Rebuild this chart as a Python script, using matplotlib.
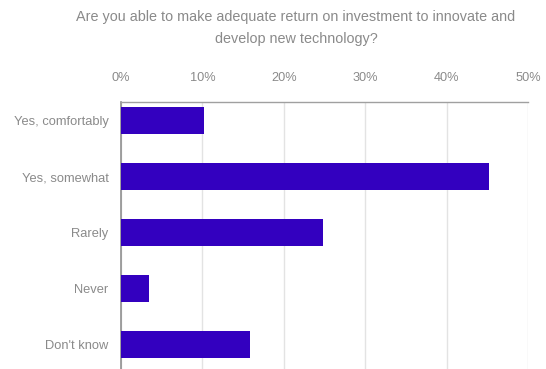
import matplotlib
matplotlib.use("Agg")
from matplotlib import pyplot as plt
from matplotlib.ticker import PercentFormatter

plt.rcParams['font.family'] = ['Liberation Sans', 'DejaVu Sans']

categories = ["Yes, comfortably", "Yes, somewhat", "Rarely", "Never", "Don't know"]
shares = [10.2, 45.2, 24.8, 3.4, 15.8]
x_ticks = [0, 10, 20, 30, 40, 50]
title = "Are you able to make adequate return on investment to innovate and\ndevelop new technology?"

text_grey = '#8a8a8a'
line_grey = '#a0a0a0'

fig = plt.figure(figsize=(5.46, 3.69), dpi=100)
ax = fig.add_axes([121 / 546, 0.0, (528 - 121) / 546, 1 - 101.7 / 369])

pos = list(range(len(categories)))
ax.barh(pos, shares, height=0.48, color='#3300BF', zorder=3)

ax.set_xlim(0, 50)
ax.set_ylim(4.43, -0.34)
ax.set_xticks(x_ticks)
ax.xaxis.set_major_formatter(PercentFormatter(decimals=0))
ax.xaxis.tick_top()
ax.set_yticks(pos)
ax.set_yticklabels(categories)
ax.tick_params(axis='x', length=0, pad=13, labelsize=9.2, labelcolor=text_grey)
ax.tick_params(axis='y', length=0, pad=9, labelsize=9.3, labelcolor=text_grey)

ax.grid(axis='x', color='#e3e3e3', linewidth=1, zorder=0)
for side in ['right', 'bottom']:
    ax.spines[side].set_visible(False)
ax.spines['left'].set_color('#909090')
ax.spines['left'].set_linewidth(1.2)
ax.spines['top'].set_color(line_grey)
ax.spines['top'].set_linewidth(1)

fig.text(296 / 546, 1 - 10 / 369, title, ha='center', va='top', fontsize=10.4,
         color=text_grey, linespacing=1.75)

fig.savefig('out.png', dpi=100)
